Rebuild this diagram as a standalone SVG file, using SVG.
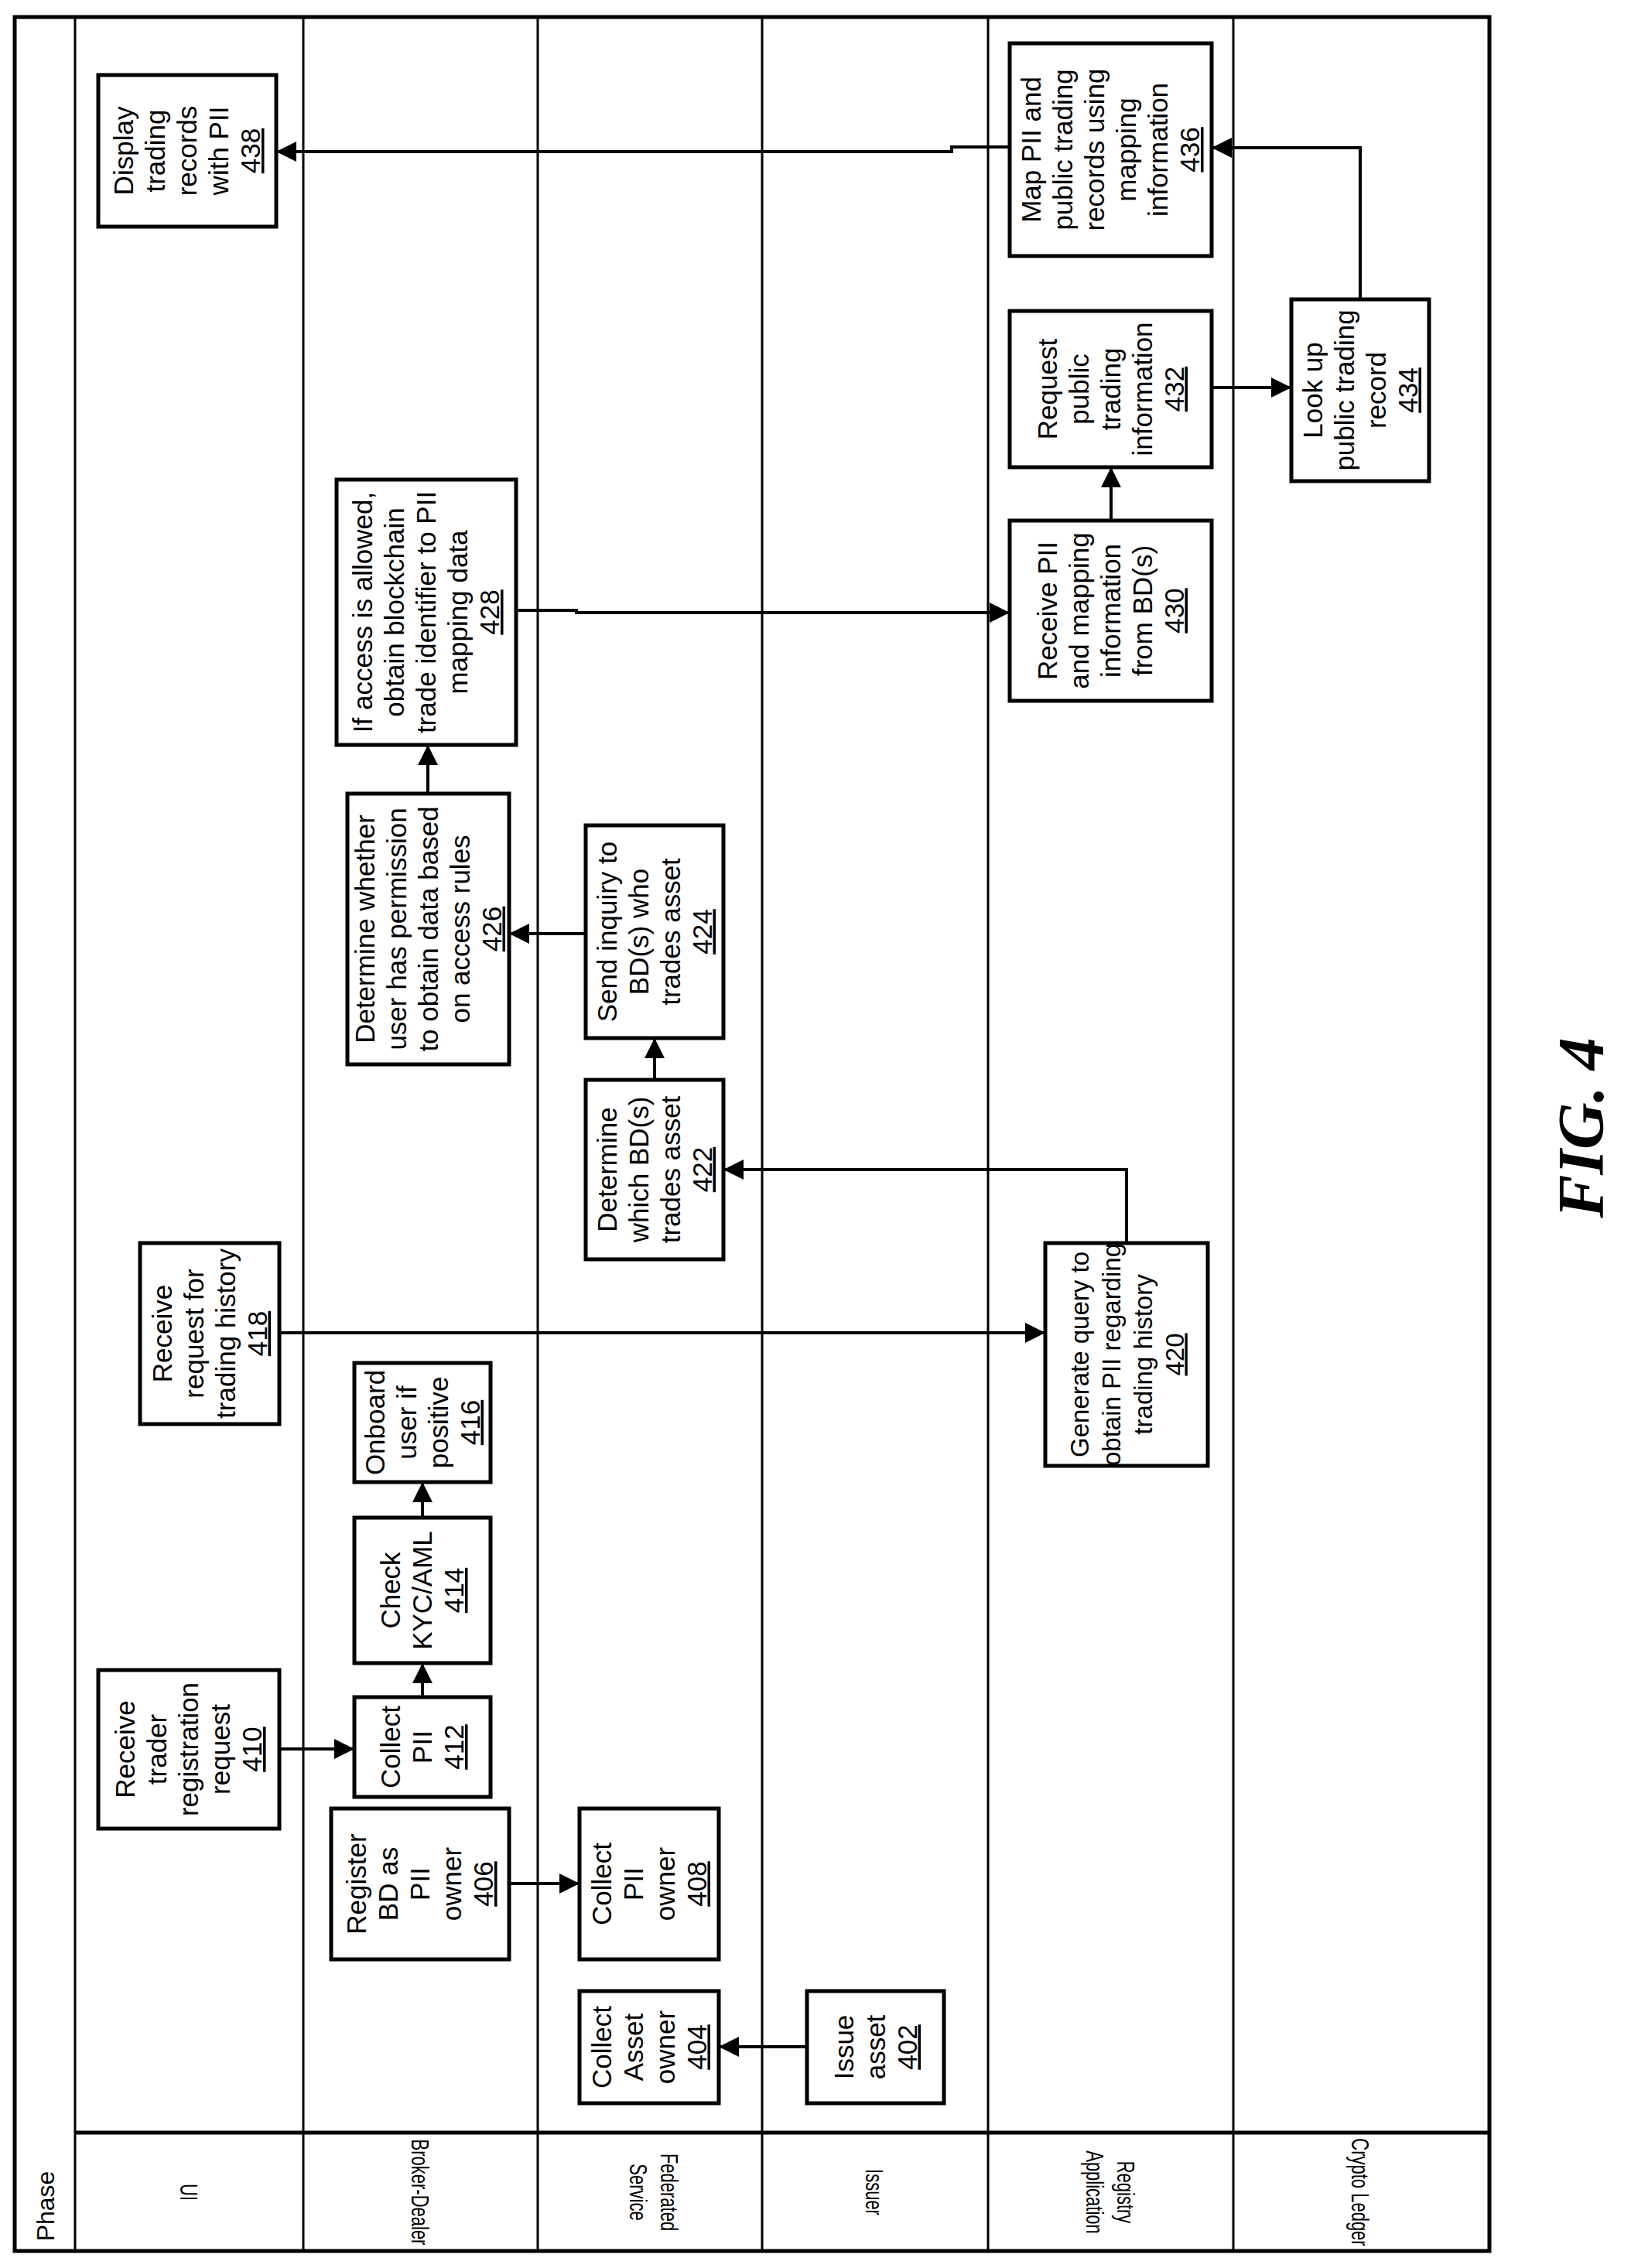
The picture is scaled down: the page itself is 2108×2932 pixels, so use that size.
<svg xmlns="http://www.w3.org/2000/svg" width="2108" height="2932" viewBox="0 0 2108 2932">
<style>
.ln{stroke:#000;stroke-width:3;fill:none}
.bx{stroke:#000;stroke-width:5;fill:#fff}
.t{font-family:"Liberation Sans",Arial,sans-serif;font-size:35px;text-anchor:middle;fill:#000}
.u{text-decoration:underline}
.c{stroke:#000;stroke-width:4;fill:none;marker-end:url(#ah)}
.lab{font-family:"Liberation Sans",Arial,sans-serif;font-size:22px;text-anchor:middle;fill:#000}
.ph{font-family:"Liberation Sans",Arial,sans-serif;font-size:32px;text-anchor:middle;fill:#000}
</style>
<defs>
<marker id="ah" markerUnits="userSpaceOnUse" markerWidth="28" markerHeight="26" refX="26" refY="13" orient="auto"><path d="M0,0 L26,13 L0,26 Z" fill="#000"/></marker>
</defs>
<rect width="2108" height="2932" fill="#fff"/>
<g id="lanes">
<rect x="19" y="22" width="1906" height="2888" fill="none" stroke="#000" stroke-width="5"/>
<line class="ln" x1="97" y1="22" x2="97" y2="2910"/>
<line class="ln" x1="392" y1="22" x2="392" y2="2910"/>
<line class="ln" x1="695" y1="22" x2="695" y2="2910"/>
<line class="ln" x1="985" y1="22" x2="985" y2="2910"/>
<line class="ln" x1="1277" y1="22" x2="1277" y2="2910"/>
<line class="ln" x1="1594" y1="22" x2="1594" y2="2910"/>
<line x1="97" y1="2757" x2="1925" y2="2757" stroke="#000" stroke-width="5"/>
<text class="ph" transform="translate(70,2852) rotate(-90)">Phase</text>
<g transform="translate(245,2834) rotate(90) scale(1,1.4)"><text class="lab" y="8.6">UI</text></g>
<g transform="translate(544,2834) rotate(90) scale(1,1.4)"><text class="lab" y="8.6">Broker-Dealer</text></g>
<g transform="translate(846,2834) rotate(90) scale(1,1.4)"><text class="lab"><tspan x="0" y="-5.7">Federated</tspan><tspan x="0" y="22.9">Service</tspan></text></g>
<g transform="translate(1131,2834) rotate(90) scale(1,1.4)"><text class="lab" y="8.6">Issuer</text></g>
<g transform="translate(1436,2834) rotate(90) scale(1,1.4)"><text class="lab"><tspan x="0" y="-5.7">Registry</tspan><tspan x="0" y="22.9">Application</tspan></text></g>
<g transform="translate(1759,2834) rotate(90) scale(1,1.4)"><text class="lab" y="8.6">Crypto Ledger</text></g>
</g>
<g id="n402"><rect class="bx" x="1043" y="2574" width="177" height="145"/><g transform="translate(1131.5,2646.5) rotate(-90)"><text class="t"><tspan x="0" y="-29">Issue</tspan><tspan x="0" y="12">asset</tspan><tspan x="0" y="53" class="u">402</tspan></text></g></g>
<g id="n404"><rect class="bx" x="749" y="2574" width="180" height="145"/><g transform="translate(839,2646.5) rotate(-90)"><text class="t"><tspan x="0" y="-49.5">Collect</tspan><tspan x="0" y="-8.5">Asset</tspan><tspan x="0" y="32.5">owner</tspan><tspan x="0" y="73.5" class="u">404</tspan></text></g></g>
<g id="n406"><rect class="bx" x="428" y="2338" width="230" height="195"/><g transform="translate(543,2435.5) rotate(-90)"><text class="t"><tspan x="0" y="-70">Register</tspan><tspan x="0" y="-29">BD as</tspan><tspan x="0" y="12">PII</tspan><tspan x="0" y="53">owner</tspan><tspan x="0" y="94" class="u">406</tspan></text></g></g>
<g id="n408"><rect class="bx" x="749" y="2338" width="180" height="195"/><g transform="translate(839,2435.5) rotate(-90)"><text class="t"><tspan x="0" y="-49.5">Collect</tspan><tspan x="0" y="-8.5">PII</tspan><tspan x="0" y="32.5">owner</tspan><tspan x="0" y="73.5" class="u">408</tspan></text></g></g>
<g id="n410"><rect class="bx" x="127" y="2159" width="234" height="205"/><g transform="translate(244,2261.5) rotate(-90)"><text class="t"><tspan x="0" y="-70">Receive</tspan><tspan x="0" y="-29">trader</tspan><tspan x="0" y="12">registration</tspan><tspan x="0" y="53">request</tspan><tspan x="0" y="94" class="u">410</tspan></text></g></g>
<g id="n412"><rect class="bx" x="458" y="2194" width="176" height="129"/><g transform="translate(546,2258.5) rotate(-90)"><text class="t"><tspan x="0" y="-29">Collect</tspan><tspan x="0" y="12">PII</tspan><tspan x="0" y="53" class="u">412</tspan></text></g></g>
<g id="n414"><rect class="bx" x="458" y="1962" width="176" height="188"/><g transform="translate(546,2056) rotate(-90)"><text class="t"><tspan x="0" y="-29">Check</tspan><tspan x="0" y="12">KYC/AML</tspan><tspan x="0" y="53" class="u">414</tspan></text></g></g>
<g id="n416"><rect class="bx" x="458" y="1762" width="176" height="154"/><g transform="translate(546,1839) rotate(-90)"><text class="t"><tspan x="0" y="-49.5">Onboard</tspan><tspan x="0" y="-8.5">user if</tspan><tspan x="0" y="32.5">positive</tspan><tspan x="0" y="73.5" class="u">416</tspan></text></g></g>
<g id="n418"><rect class="bx" x="181" y="1607" width="180" height="234"/><g transform="translate(271,1724) rotate(-90)"><text class="t"><tspan x="0" y="-49.5">Receive</tspan><tspan x="0" y="-8.5">request for</tspan><tspan x="0" y="32.5">trading history</tspan><tspan x="0" y="73.5" class="u">418</tspan></text></g></g>
<g id="n420"><rect class="bx" x="1351" y="1607" width="210" height="288"/><g transform="translate(1456,1751) rotate(-90)"><text class="t" style="font-size:33px"><tspan x="0" y="-49.5">Generate query to</tspan><tspan x="0" y="-8.5">obtain PII regarding</tspan><tspan x="0" y="32.5">trading history</tspan><tspan x="0" y="73.5" class="u">420</tspan></text></g></g>
<g id="n422"><rect class="bx" x="757" y="1396" width="178" height="232"/><g transform="translate(846,1512) rotate(-90)"><text class="t"><tspan x="0" y="-49.5">Determine</tspan><tspan x="0" y="-8.5">which BD(s)</tspan><tspan x="0" y="32.5">trades asset</tspan><tspan x="0" y="73.5" class="u">422</tspan></text></g></g>
<g id="n424"><rect class="bx" x="757" y="1067" width="178" height="275"/><g transform="translate(846,1204.5) rotate(-90)"><text class="t"><tspan x="0" y="-49.5">Send inquiry to</tspan><tspan x="0" y="-8.5">BD(s) who</tspan><tspan x="0" y="32.5">trades asset</tspan><tspan x="0" y="73.5" class="u">424</tspan></text></g></g>
<g id="n426"><rect class="bx" x="449" y="1026" width="209" height="350"/><g transform="translate(553.5,1201) rotate(-90)"><text class="t"><tspan x="0" y="-70">Determine whether</tspan><tspan x="0" y="-29">user has permission</tspan><tspan x="0" y="12">to obtain data based</tspan><tspan x="0" y="53">on access rules</tspan><tspan x="0" y="94" class="u">426</tspan></text></g></g>
<g id="n428"><rect class="bx" x="435" y="620" width="232" height="343"/><g transform="translate(551,791.5) rotate(-90)"><text class="t"><tspan x="0" y="-70">If access is allowed,</tspan><tspan x="0" y="-29">obtain blockchain</tspan><tspan x="0" y="12">trade identifier to PII</tspan><tspan x="0" y="53">mapping data</tspan><tspan x="0" y="94" class="u">428</tspan></text></g></g>
<g id="n430"><rect class="bx" x="1305" y="673" width="261" height="233"/><g transform="translate(1435.5,789.5) rotate(-90)"><text class="t"><tspan x="0" y="-70">Receive PII</tspan><tspan x="0" y="-29">and mapping</tspan><tspan x="0" y="12">information</tspan><tspan x="0" y="53">from BD(s)</tspan><tspan x="0" y="94" class="u">430</tspan></text></g></g>
<g id="n432"><rect class="bx" x="1305" y="402" width="261" height="202"/><g transform="translate(1435.5,503) rotate(-90)"><text class="t"><tspan x="0" y="-70">Request</tspan><tspan x="0" y="-29">public</tspan><tspan x="0" y="12">trading</tspan><tspan x="0" y="53">information</tspan><tspan x="0" y="94" class="u">432</tspan></text></g></g>
<g id="n434"><rect class="bx" x="1669" y="387" width="178" height="235"/><g transform="translate(1758,504.5) rotate(-90)"><text class="t"><tspan x="0" y="-49.5">Look up</tspan><tspan x="0" y="-8.5">public trading</tspan><tspan x="0" y="32.5">record</tspan><tspan x="0" y="73.5" class="u">434</tspan></text></g></g>
<g id="n436"><rect class="bx" x="1305" y="56" width="261" height="275"/><g transform="translate(1435.5,193.5) rotate(-90)"><text class="t"><tspan x="0" y="-90.5">Map PII and</tspan><tspan x="0" y="-49.5">public trading</tspan><tspan x="0" y="-8.5">records using</tspan><tspan x="0" y="32.5">mapping</tspan><tspan x="0" y="73.5">information</tspan><tspan x="0" y="114.5" class="u">436</tspan></text></g></g>
<g id="n438"><rect class="bx" x="127" y="97" width="230" height="196"/><g transform="translate(242,195) rotate(-90)"><text class="t"><tspan x="0" y="-70">Display</tspan><tspan x="0" y="-29">trading</tspan><tspan x="0" y="12">records</tspan><tspan x="0" y="53">with PII</tspan><tspan x="0" y="94" class="u">438</tspan></text></g></g>
<g id="connectors">
<path class="c" d="M1043,2646 H929"/>
<path class="c" d="M658,2435 H749"/>
<path class="c" d="M361,2261 H458"/>
<path class="c" d="M546,2194 V2150"/>
<path class="c" d="M546,1962 V1916"/>
<path class="c" d="M361,1723 H1351"/>
<path class="c" d="M1456,1607 V1512 H935"/>
<path class="c" d="M846,1396 V1342"/>
<path class="c" d="M757,1207 H658"/>
<path class="c" d="M553,1026 V963"/>
<path class="c" d="M667,789 H745 V792 H1305"/>
<path class="c" d="M1436,673 V604"/>
<path class="c" d="M1566,501 H1669"/>
<path class="c" d="M1758,387 V191 H1566"/>
<path class="c" d="M1305,190 H1230 V196 H357"/>
</g>
<text transform="translate(2072,1458) rotate(-90)" font-family="'Liberation Serif',serif" font-size="84" font-weight="bold" font-style="italic" text-anchor="middle">FIG. 4</text>
</svg>
